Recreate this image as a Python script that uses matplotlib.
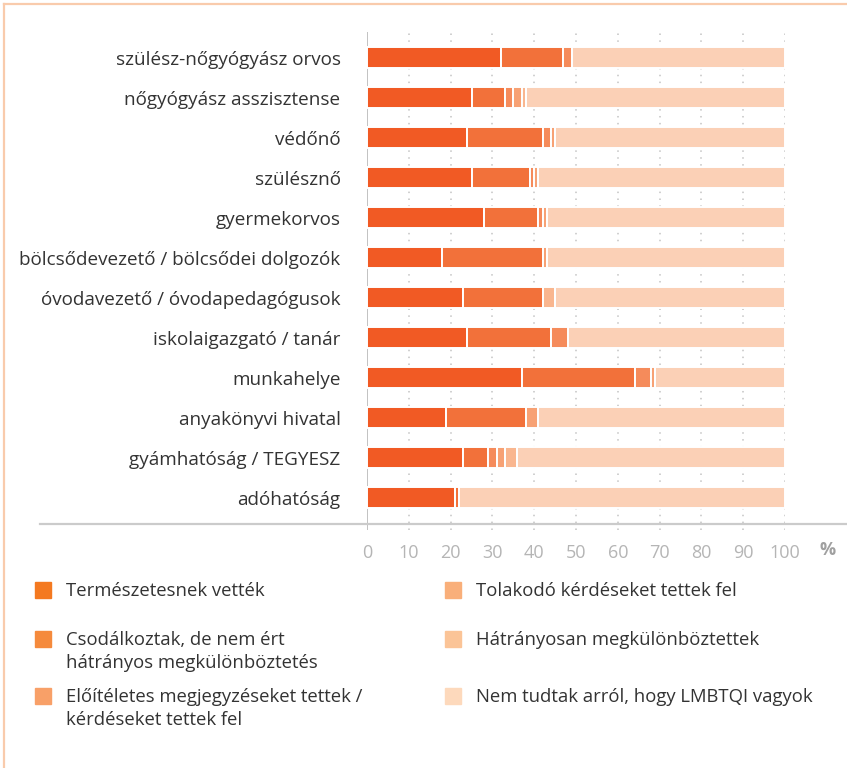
import numpy as np
import matplotlib
matplotlib.use("Agg")
import matplotlib.pyplot as plt
from matplotlib.lines import Line2D
from matplotlib.patches import Rectangle

plt.rcParams['font.family'] = ['Open Sans', 'DejaVu Sans']

categories = ["szülész-nőgyógyász orvos", "nőgyógyász asszisztense", "védőnő",
              "szülésznő", "gyermekorvos", "bölcsődevezető / bölcsődei dolgozók",
              "óvodavezető / óvodapedagógusok", "iskolaigazgató / tanár",
              "munkahelye", "anyakönyvi hivatal", "gyámhatóság / TEGYESZ",
              "adóhatóság"]

natural = [32, 25, 24, 25, 28, 18, 23, 24, 37, 19, 23, 21]
wondered = [15, 8, 18, 14, 13, 24, 19, 20, 27, 19, 6, 1]
prejudiced = [2, 2, 2, 1, 1, 0, 0, 4, 4, 0, 2, 0]
intrusive = [0, 2, 1, 1, 1, 1, 0, 0, 1, 3, 2, 0]
discriminated = [0, 1, 0, 0, 0, 0, 3, 0, 0, 0, 3, 0]
unaware = [51, 62, 55, 59, 57, 57, 55, 52, 31, 59, 64, 78]

series = [natural, wondered, prejudiced, intrusive, discriminated, unaware]
series_labels = ["Természetesnek vették",
                 "Csodálkoztak, de nem ért\nhátrányos megkülönböztetés",
                 "Előítéletes megjegyzéseket tettek /\nkérdéseket tettek fel",
                 "Tolakodó kérdéseket tettek fel",
                 "Hátrányosan megkülönböztettek",
                 "Nem tudtak arról, hogy LMBTQI vagyok"]
bar_colors = ["#F15A24", "#F2713A", "#F58B5B", "#F7A174", "#F9B68F", "#FBD0B6"]
legend_colors = ["#F47920", "#F58A3C", "#F8A068", "#F9AF7A", "#FBC497", "#FDD9BC"]
xticks = [0, 10, 20, 30, 40, 50, 60, 70, 80, 90, 100]

W, H = 847, 768
fig = plt.figure(figsize=(W / 100, H / 100), dpi=100)

def fx(px):
    return px / W

def fy(py):
    return 1 - py / H

ax = fig.add_axes([fx(367), fy(530), fx(785) - fx(367), fy(32) - fy(530)])

y = np.arange(len(categories))
left = np.zeros(len(categories))
for vals, col in zip(series, bar_colors):
    vals = np.array(vals, dtype=float)
    ax.barh(y, vals, left=left, height=0.52, color=col,
            edgecolor="white", linewidth=1.4, zorder=3)
    left += vals

ax.set_xlim(0, 100)
ax.set_ylim(11.805, -0.645)
for s in ax.spines.values():
    s.set_visible(False)

for t in xticks[1:]:
    ax.axvline(t, color="#c4c4c4", lw=1.1, ls=(0, (1, 3.5)), zorder=1)
ax.axvline(0, color="#bdbdbd", lw=1.3, zorder=1)

ax.set_yticks(y)
ax.set_yticklabels(categories, fontsize=13.6, color="#333333")
ax.set_xticks(xticks)
ax.set_xticklabels([str(t) for t in xticks], fontsize=13, color="#b5b5b5")
ax.tick_params(axis="y", length=0, pad=19)
ax.tick_params(axis="x", length=0, pad=10)

fig.text(fx(828), fy(550), "%", fontsize=13, color="#a0a0a0",
         fontweight="bold", ha="center", va="center")

# horizontal axis line
fig.add_artist(Line2D([fx(40), fx(847)], [fy(524), fy(524)],
                      color="#cbcbcb", lw=1.6))

# frame
fig.add_artist(Line2D([fx(4), fx(847)], [fy(4), fy(4)], color="#F9CBAC", lw=1.6))
fig.add_artist(Line2D([fx(4), fx(4)], [fy(4), fy(768)], color="#F9CBAC", lw=1.6))

# legend
rows_y = [590, 639, 696]
cols_x = [35, 445]
for i, (lab, col) in enumerate(zip(series_labels, legend_colors)):
    cx = cols_x[i // 3]
    cy = rows_y[i % 3]
    fig.add_artist(Rectangle((fx(cx), fy(cy + 8)), fx(16), 16 / H,
                             color=col, transform=fig.transFigure))
    for j, line in enumerate(lab.split("\n")):
        fig.text(fx(cx + 31), fy(cy + 6 + 23 * j), line, fontsize=13.3,
                 color="#333333", ha="left", va="baseline")

fig.savefig("out.png", dpi=100)
